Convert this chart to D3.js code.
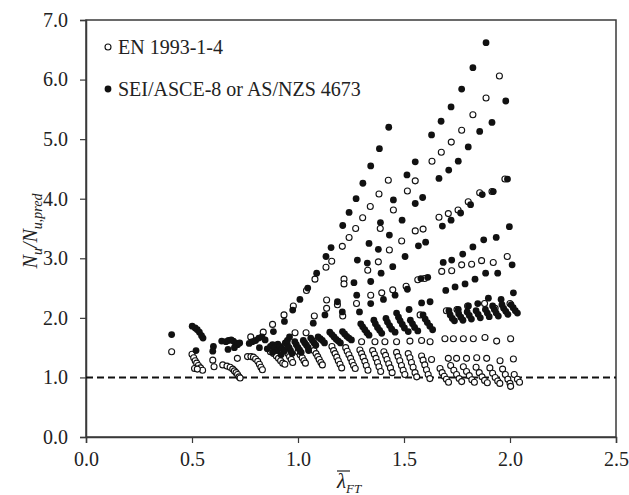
<!DOCTYPE html>
<html><head><meta charset="utf-8">
<script src="https://cdn.jsdelivr.net/npm/d3@7"></script>
<style>body{margin:0;background:#fff}svg{display:block}text{font-family:"Liberation Serif","Times New Roman",serif}</style>
</head><body>
<svg id="c" width="629" height="495"></svg>
<script>
const xTicks=[0,0.5,1.0,1.5,2.0,2.5];
const yTicks=[0,1,2,3,4,5,6,7];
const seriesNames=["EN 1993-1-4","SEI/ASCE-8 or AS/NZS 4673"];
const refLine=1.0;
const enPoints=[
[0.404,1.43],
[0.500,1.39],[0.508,1.33],[0.515,1.28],[0.522,1.24],[0.530,1.20],[0.540,1.16],[0.550,1.12],[0.512,1.15],[0.525,1.14],
[0.598,1.29],[0.604,1.18],
[0.645,1.21],[0.665,1.19],[0.680,1.17],[0.692,1.14],[0.700,1.11],[0.708,1.08],[0.715,1.05],[0.722,1.01],[0.727,0.99],
[0.714,1.32],
[0.762,1.35],[0.778,1.35],[0.790,1.34],[0.800,1.31],[0.810,1.27],[0.818,1.22],[0.825,1.17],[0.832,1.13],
[0.777,1.68],[0.836,1.76],
[0.880,1.89],[0.934,2.05],[0.978,2.20],[1.040,2.46],[1.080,2.65],[1.132,2.85],[1.159,2.95],[1.209,3.20],[1.241,3.35],[1.272,3.50],[1.305,3.68],[1.341,3.87],[1.382,4.08],[1.426,4.31],
[0.986,1.75],[1.038,1.75],[1.077,2.03],[1.135,2.30],[1.135,2.16],
[0.870,1.43],[0.885,1.40],[0.898,1.36],[0.908,1.32],[0.918,1.28],[0.928,1.24],[0.938,1.22],
[0.945,1.45],[0.952,1.40],[0.960,1.35],[0.968,1.30],[0.975,1.25],
[1.000,1.43],[1.010,1.38],[1.020,1.33],[1.028,1.28],[1.035,1.24],
[1.075,1.45],[1.085,1.40],[1.093,1.35],[1.100,1.30],[1.108,1.25],[1.115,1.21],
[1.160,1.52],[1.168,1.45],[1.175,1.40],[1.183,1.34],[1.190,1.28],[1.198,1.22],[1.206,1.16],
[1.225,1.50],[1.232,1.44],[1.240,1.38],[1.248,1.32],[1.255,1.26],[1.262,1.20],[1.270,1.15],
[1.292,1.46],[1.300,1.40],[1.307,1.34],[1.315,1.27],[1.322,1.20],[1.330,1.12],
[1.352,1.45],[1.360,1.39],[1.368,1.32],[1.375,1.25],[1.382,1.18],[1.390,1.10],
[1.405,1.43],[1.413,1.37],[1.420,1.30],[1.428,1.23],[1.436,1.16],[1.444,1.08],
[1.465,1.42],[1.472,1.35],[1.480,1.28],[1.488,1.20],[1.496,1.12],[1.504,1.05],
[1.520,1.40],[1.528,1.33],[1.535,1.25],[1.543,1.17],[1.552,1.08],[1.560,1.01],
[1.583,1.36],[1.590,1.29],[1.598,1.21],[1.606,1.13],[1.614,1.05],[1.622,0.98],[1.630,1.30],
[1.300,1.60],[1.363,1.60],[1.410,1.60],[1.465,1.60],[1.528,1.61],[1.583,1.62],[1.623,1.60],
[1.670,1.15],[1.680,1.08],[1.690,1.02],[1.700,0.97],[1.710,0.92],
[1.709,1.32],[1.748,1.32],[1.795,1.32],[1.843,1.33],[1.890,1.32],[1.953,1.28],[2.016,1.31],
[1.693,1.65],[1.733,1.65],[1.780,1.65],[1.827,1.65],[1.882,1.67],[1.937,1.61],[2.003,1.65],
[1.720,1.20],[1.735,1.12],[1.748,1.05],[1.760,0.98],[1.772,0.93],
[1.780,1.18],[1.795,1.10],[1.808,1.03],[1.820,0.96],[1.832,0.92],
[1.840,1.17],[1.855,1.08],[1.868,1.01],[1.880,0.95],[1.893,0.91],
[1.905,1.16],[1.918,1.07],[1.930,1.00],[1.942,0.94],[1.952,0.90],
[1.965,1.14],[1.978,1.05],[1.990,0.97],[2.000,0.90],[2.003,0.85],
[2.020,1.05],[2.035,0.97],[2.045,0.92],
[1.217,2.65],[1.217,2.57],[1.329,2.80],[1.276,2.24],[1.343,2.38],[1.395,2.42],[1.447,2.47],[1.510,2.53],[1.211,2.03],[1.186,2.22],
[1.379,2.94],[1.431,3.14],[1.489,3.29],[1.553,3.46],[1.590,3.49],[1.665,3.69],[1.709,3.75],[1.755,3.81],[1.803,3.95],[1.857,4.10],[1.915,4.12],[1.976,4.33],
[1.388,3.50],[1.450,3.81],[1.516,4.13],[1.553,4.30],[1.632,4.63],[1.676,4.78],[1.723,4.95],[1.772,5.15],[1.825,5.41],[1.887,5.69],[1.950,6.06],
[1.576,2.05],[1.700,2.12],[1.750,2.14],[1.800,2.20],[1.880,2.24],[1.930,2.16],[2.000,2.24],[1.565,2.64],[1.597,2.66],
[1.678,2.78],[1.725,2.79],[1.772,2.89],[1.819,2.90],[1.866,2.96],[1.921,2.93],[1.987,3.03]
];
const seiPoints=[
[0.404,1.72],
[0.501,1.86],[0.515,1.83],[0.525,1.80],[0.535,1.76],[0.545,1.70],[0.552,1.66],
[0.519,1.45],
[0.601,1.52],[0.598,1.44],
[0.640,1.61],[0.660,1.60],[0.672,1.62],[0.685,1.63],[0.695,1.61],[0.705,1.58],[0.715,1.55],[0.670,1.47],[0.700,1.50],[0.725,1.58],
[0.770,1.57],[0.785,1.60],[0.800,1.62],[0.815,1.66],[0.830,1.68],[0.845,1.63],[0.818,1.50],
[0.884,1.77],[0.936,1.94],[0.975,2.13],[1.009,2.31],[1.046,2.50],[1.088,2.75],[1.132,3.03],[1.156,3.18],[1.211,3.55],[1.241,3.77],[1.274,4.00],[1.306,4.26],[1.343,4.55],[1.384,4.84],[1.428,5.20],
[1.514,4.40],[1.553,4.62],[1.630,5.07],[1.675,5.30],[1.722,5.54],[1.772,5.84],[1.825,6.20],[1.887,6.62],
[1.980,5.64],[1.915,5.28],[1.857,5.13],[1.803,4.87],[1.756,4.63],[1.711,4.48],[1.665,4.34],[1.588,4.02],[1.553,3.92],
[1.450,3.98],[1.491,3.64],[1.389,3.60],[1.431,3.39],[1.335,3.25],[1.379,3.15],[1.568,3.21],[1.602,3.27],
[1.988,4.33],[1.921,4.12],[1.869,4.07],[1.814,3.90],[1.767,3.76],[1.722,3.64],[1.681,3.54],
[1.997,3.53],[1.935,3.35],[1.876,3.31],[1.825,3.19],[1.777,3.07],[1.725,2.97],[1.685,2.93],
[1.280,2.97],[1.327,2.92],[1.447,2.86],[1.392,2.75],[1.505,3.03],
[1.697,2.46],[1.741,2.52],[1.788,2.57],[1.835,2.65],[1.885,2.75],[1.942,2.75],[2.010,2.89],
[1.712,2.12],[1.756,2.14],[1.804,2.20],[1.848,2.24],[1.898,2.33],[1.958,2.31],[2.016,2.42],
[1.580,2.66],[1.612,2.68],[1.583,2.25],[1.623,2.27],
[1.264,2.59],[1.343,2.61],[1.186,2.27],[1.277,2.38],[1.343,2.24],[1.403,2.31],[1.458,2.38],[1.516,2.48],[1.209,2.10],[1.290,2.10],[1.465,2.08],[1.524,2.14],
[1.072,1.91],[1.127,2.05],
[1.150,1.76],[1.160,1.72],[1.170,1.68],[1.180,1.64],[1.190,1.61],[1.200,1.58],
[1.210,1.77],[1.220,1.73],[1.230,1.69],[1.240,1.66],[1.252,1.63],
[1.296,1.90],[1.305,1.85],[1.315,1.80],[1.325,1.75],[1.335,1.71],
[1.358,1.96],[1.365,1.90],[1.375,1.84],[1.385,1.79],[1.395,1.74],
[1.415,1.99],[1.422,1.93],[1.432,1.87],[1.442,1.81],[1.458,1.76],
[1.474,2.01],[1.482,1.95],[1.492,1.89],[1.502,1.83],[1.520,1.77],
[1.530,1.96],[1.540,1.90],[1.550,1.84],[1.565,1.78],
[1.590,2.05],[1.600,1.98],[1.610,1.92],[1.622,1.86],[1.635,1.80],
[1.718,2.05],[1.728,1.99],[1.738,1.95],
[1.758,2.07],[1.768,2.01],[1.778,1.96],
[1.798,2.10],[1.808,2.04],[1.818,1.98],
[1.840,2.12],[1.850,2.06],[1.860,2.00],
[1.884,2.14],[1.893,2.08],[1.902,2.02],
[1.918,2.20],[1.926,2.14],[1.935,2.08],[1.945,2.03],
[1.962,2.22],[1.970,2.16],[1.980,2.11],[1.990,2.06],
[2.005,2.22],[2.015,2.17],[2.025,2.12],[2.035,2.08],
[0.855,1.48],[0.870,1.52],[0.880,1.55],[0.890,1.50],[0.900,1.45],[0.905,1.56],[0.915,1.52],[0.925,1.48],[0.935,1.44],[0.940,1.58],[0.950,1.55],[0.958,1.50],[0.965,1.45],[0.972,1.40],[0.985,1.60],[0.992,1.55],[1.000,1.50],[1.008,1.46],[1.015,1.42],[1.025,1.62],[1.032,1.58],[1.040,1.54],[1.048,1.50],[1.060,1.66],[1.068,1.62],[1.076,1.58],[1.084,1.54],[1.095,1.68],[1.105,1.65],[1.115,1.62],[1.125,1.58],[0.880,1.42],[0.920,1.38],[0.950,1.62],[1.050,1.45],[0.960,1.68]
];

const M={l:86,t:20,r:616,b:437};
const svg=d3.select("#c");
const x=d3.scaleLinear().domain([0,2.5]).range([M.l,M.r]);
const y=d3.scaleLinear().domain([0,7]).range([M.b,M.t]);
const axisCol="#3a3a3a";

// frame
svg.append("rect").attr("x",M.l).attr("y",M.t).attr("width",M.r-M.l).attr("height",M.b-M.t)
  .attr("fill","none").attr("stroke",axisCol).attr("stroke-width",1.5);

const ax=svg.append("g").attr("transform",`translate(0,${M.b})`)
  .call(d3.axisBottom(x).tickValues(xTicks).tickFormat(d3.format(".1f")).tickSize(6).tickPadding(9));
const ay=svg.append("g").attr("transform",`translate(${M.l},0)`)
  .call(d3.axisLeft(y).tickValues(yTicks).tickFormat(d3.format(".1f")).tickSize(6).tickPadding(12));
[ax,ay].forEach(g=>{
  g.select(".domain").attr("stroke",axisCol).attr("stroke-width",1.5);
  g.selectAll(".tick line").attr("stroke",axisCol).attr("stroke-width",1.2);
  g.selectAll(".tick text").attr("font-size",20).attr("fill","#222").style("font-family","'Liberation Serif',serif");
});

// reference line
svg.append("line").attr("x1",x(0)).attr("x2",x(2.5)).attr("y1",y(refLine)).attr("y2",y(refLine))
  .attr("stroke","#111").attr("stroke-width",2).attr("stroke-dasharray","7,4");

// points
svg.append("g").selectAll("circle").data(enPoints).join("circle")
  .attr("cx",d=>x(d[0])).attr("cy",d=>y(d[1])).attr("r",3)
  .attr("fill","#fff").attr("stroke","#111").attr("stroke-width",1.1);
svg.append("g").selectAll("circle").data(seiPoints).join("circle")
  .attr("cx",d=>x(d[0])).attr("cy",d=>y(d[1])).attr("r",3.4)
  .attr("fill","#111");

// legend
const lg=svg.append("g");
lg.append("circle").attr("cx",108).attr("cy",47).attr("r",3).attr("fill","#fff").attr("stroke","#111").attr("stroke-width",1.1);
lg.append("text").attr("x",118).attr("y",54).attr("font-size",20).attr("fill","#222").text(seriesNames[0]);
lg.append("circle").attr("cx",108).attr("cy",89).attr("r",3.4).attr("fill","#111");
lg.append("text").attr("x",118).attr("y",96).attr("font-size",20).attr("fill","#222").text(seriesNames[1]);

// y label
const yl=svg.append("text").attr("transform","translate(37,231) rotate(-90)").attr("text-anchor","middle")
  .attr("font-size",20).attr("font-style","italic").attr("fill","#222");
yl.append("tspan").text("N");
yl.append("tspan").attr("font-size",14).attr("dy",5).text("u");
yl.append("tspan").attr("dy",-5).text("/N");
yl.append("tspan").attr("font-size",14).attr("dy",5).text("u,pred");

// x label
const xl=svg.append("text").attr("x",337).attr("y",488).attr("font-size",21).attr("font-style","italic").attr("fill","#222");
xl.append("tspan").text("λ");
xl.append("tspan").attr("font-size",13).attr("dy",5).text("FT");
svg.append("line").attr("x1",337).attr("x2",350).attr("y1",471).attr("y2",471).attr("stroke","#222").attr("stroke-width",1.2);
</script>
</body></html>
